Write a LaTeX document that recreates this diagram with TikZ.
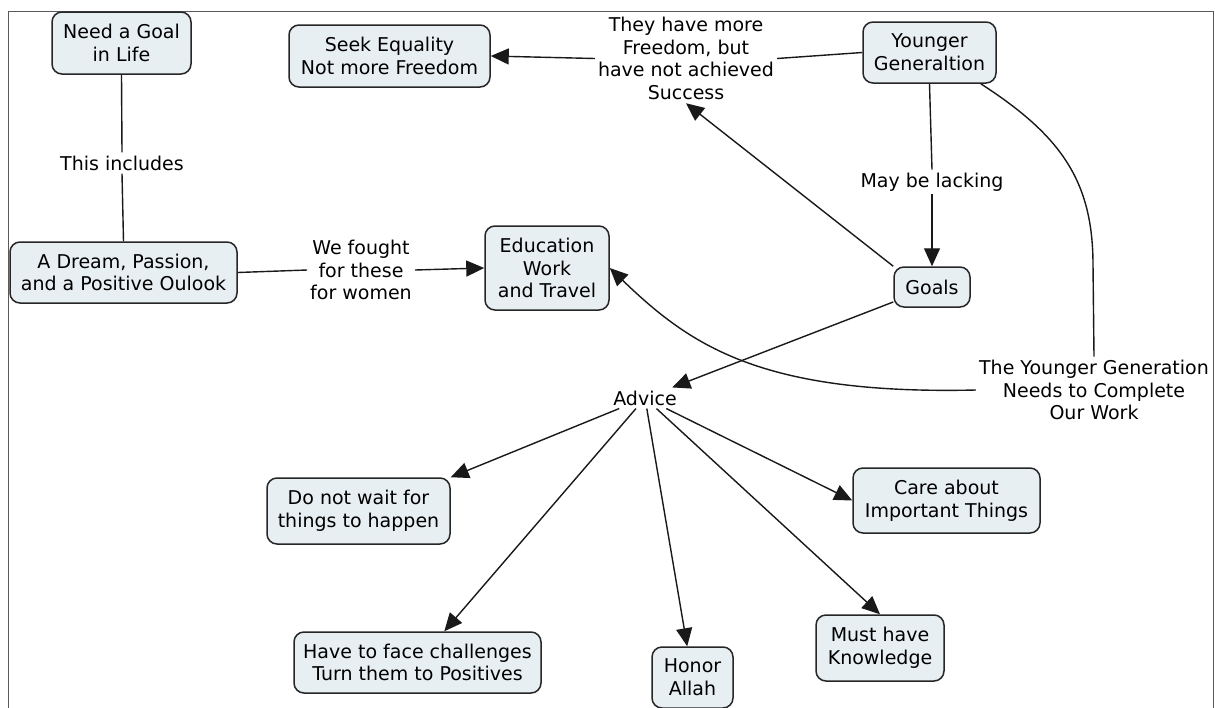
\documentclass[tikz,border=0pt]{standalone}
\usepackage{fontspec}
\setmainfont{DejaVu Sans}
\usetikzlibrary{arrows.meta,calc}
\definecolor{conceptfill}{HTML}{E8EFF2}
\definecolor{framegray}{HTML}{5A5A5A}
\newcommand\mapfont{\fontsize{19}{22.8}\selectfont}
\begin{document}
\begin{tikzpicture}[x=1pt,y=-1pt,
  concept/.style={draw=black!85, line width=1.5pt, fill=conceptfill,
    rounded corners=10pt, align=center, inner sep=0pt, font=\mapfont},
  phrase/.style={align=center, inner sep=3pt, font=\mapfont},
  link/.style={line width=1.4pt, draw=black!90},
  arr/.style={link, -{Triangle[length=18pt,width=16pt]}},
]
\useasboundingbox (0,0) rectangle (1215,707);
\clip (0,0) rectangle (1215,707);
\fill[white] (0,0) rectangle (1215,707);

% page frame
\draw[framegray, line width=1pt] (8,720) -- (8,11) -- (1213,11) -- (1213,720);

% concepts
\node[concept, minimum width=139pt, minimum height=62pt] (need)  at (121.5,43)  {Need a Goal\\in Life};
\node[concept, minimum width=201pt, minimum height=62pt] (seek)  at (389.5,56)  {Seek Equality\\Not more Freedom};
\node[concept, minimum width=133pt, minimum height=61pt] (young) at (929.5,52.5) {Younger\\Generaltion};
\node[concept, minimum width=227pt, minimum height=61pt] (dream) at (123.5,272.5) {A Dream, Passion,\\and a Positive Oulook};
\node[concept, minimum width=124pt, minimum height=84pt] (edu)   at (547,268)   {Education\\Work\\and Travel};
\node[concept, minimum width=76pt,  minimum height=40pt] (goals) at (932,287)   {Goals};
\node[concept, minimum width=183pt, minimum height=66pt] (wait)  at (358.5,511) {Do not wait for\\things to happen};
\node[concept, minimum width=187pt, minimum height=65pt] (care)  at (946.5,500.5) {Care about\\Important Things};
\node[concept, minimum width=247pt, minimum height=61pt] (face)  at (417.5,662.5) {Have to face challenges\\Turn them to Positives};
\node[concept, minimum width=81pt,  minimum height=61pt] (honor) at (692.5,677.5) {Honor\\Allah};
\node[concept, minimum width=128pt, minimum height=66pt] (must)  at (880,648)   {Must have\\Knowledge};

% linking phrases
\node[phrase] (includes) at (122,163)  {This includes};
\node[phrase] (fought)   at (361,270)  {We fought\\for these\\for women};
\node[phrase] (freedom)  at (686,58.5) {They have more\\Freedom, but\\have not achieved\\Success};
\node[phrase] (lacking)  at (932,182)  {May be lacking};
\node[phrase] (advice)   at (645,398)  {Advice};
\node[phrase] (ygen)     at (1094,390) {The Younger Generation\\Needs to Complete\\Our Work};

% connectors
\draw[link] (need.south) -- (includes.north);
\draw[link] (includes.south) -- (dream.north);
\draw[link] (dream.east) -- (fought.west);
\draw[arr]  (fought.east) -- (edu.west);
\draw[link] (young.west) -- (freedom.east);
\draw[arr]  (freedom.west) -- (seek.east);
\draw[arr]  (goals.north west) -- (freedom.south);
\draw[link] (young.south) -- (lacking.north);
\draw[arr]  (lacking.south) -- (goals.north);
\draw[arr]  (goals) -- (advice);
\draw[link] ($(young.south east)+(-16,0)$) .. controls (1060,135) and (1093,180) .. (1093,265) -- (ygen.north);
\draw[arr]  (ygen.west) .. controls (760,395) and (690,345) .. (edu.east);
\draw[arr]  (advice) -- (wait.north east);
\draw[arr]  (advice) -- (face);
\draw[arr]  (advice) -- (honor);
\draw[arr]  (advice) -- (must.north);
\draw[arr]  (advice) -- (care.west);
\end{tikzpicture}
\end{document}
